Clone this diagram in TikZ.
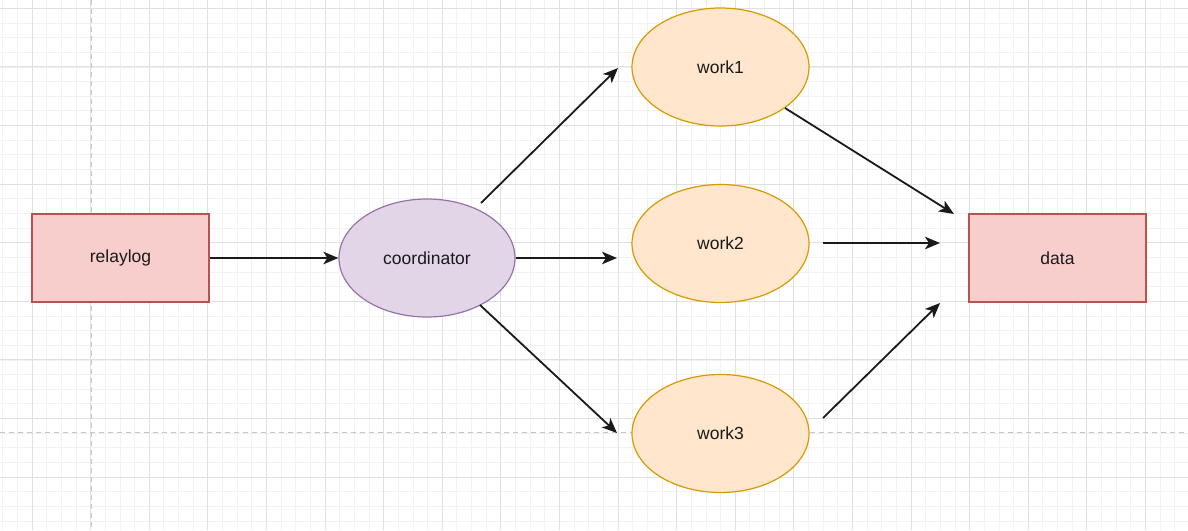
\documentclass[tikz,border=0pt]{standalone}
\usepackage{fontspec}
\setmainfont{Liberation Sans}
\usetikzlibrary{arrows.meta,shapes.geometric}
\definecolor{storefill}{HTML}{F8CECC}
\definecolor{storeline}{HTML}{B85450}
\definecolor{hubfill}{HTML}{E1D5E7}
\definecolor{hubline}{HTML}{9673A6}
\definecolor{workfill}{HTML}{FFE6CC}
\definecolor{workline}{HTML}{D79B00}
\definecolor{inkdark}{HTML}{1A1A1A}

\begin{document}
\begin{tikzpicture}[x=1pt, y=-1pt, every node/.style={font=\fontsize{17.5}{20}\selectfont, text=inkdark}, store/.style={draw=storeline, fill=storefill, line width=1.2pt, minimum width=177pt, minimum height=88pt, inner sep=0pt}, hub/.style={ellipse, draw=hubline, fill=hubfill, line width=1.2pt, minimum width=176pt, minimum height=118pt, inner sep=0pt}, worker/.style={ellipse, draw=workline, fill=workfill, line width=1.2pt, minimum width=177pt, minimum height=118pt, inner sep=0pt}, flow/.style={-{Stealth[length=15pt,width=12.5pt,inset=4pt]}, line width=1.8pt, draw=inkdark}, minorgrid/.style={draw=gray!11, line width=0.8pt}, majorgrid/.style={draw=gray!24, line width=1pt}, pageedge/.style={draw=gray!45, line width=1pt, dash pattern=on 5pt off 4pt}]
\useasboundingbox (0,0) rectangle (1188,530);
% background grid
\begin{scope}
\clip (0,0) rectangle (1188,530);
\fill[white] (0,0) rectangle (1188,530);
\foreach \i in {-3,...,79} \draw[minorgrid] ({32+14.65*\i},0) -- ++(0,530);
\foreach \j in {0,...,36} \draw[minorgrid] (0,{8.3+14.65*\j}) -- ++(1188,0);
\foreach \i in {0,...,20} \draw[majorgrid] ({32+58.6*\i},0) -- ++(0,530);
\foreach \j in {0,...,9} \draw[majorgrid] (0,{8.3+58.6*\j}) -- ++(1188,0);
\draw[pageedge] (91,0) -- (91,530);
\draw[pageedge] (0,432.7) -- (1188,432.7);
\end{scope}
% nodes
\node[store] (relaylog) at (120.5,258) {relaylog};
\node[hub] (coord) at (427,258) {coordinator};
\node[worker] (work1) at (720.5,67) {work1};
\node[worker] (work2) at (720.5,243.5) {work2};
\node[worker] (work3) at (720.5,433.5) {work3};
\node[store] (data) at (1057.5,258) {data};
% loose arrow ends
\coordinate (c1s) at (481,203);
\coordinate (c1e) at (618,68);
\coordinate (c2e) at (617,258);
\coordinate (c3s) at (480,305);
\coordinate (c3e) at (617,433);
\coordinate (d1s) at (785,108);
\coordinate (d1e) at (954,214);
\coordinate (d2s) at (823,243);
\coordinate (d2e) at (940,243);
\coordinate (d3s) at (823,418);
\coordinate (d3e) at (940,303);
% arrows
\draw[flow] (relaylog.east) -- (coord.west);
\draw[flow] (c1s) -- (c1e);
\draw[flow] (coord.east) -- (c2e);
\draw[flow] (c3s) -- (c3e);
\draw[flow] (d1s) -- (d1e);
\draw[flow] (d2s) -- (d2e);
\draw[flow] (d3s) -- (d3e);
\end{tikzpicture}
\end{document}
